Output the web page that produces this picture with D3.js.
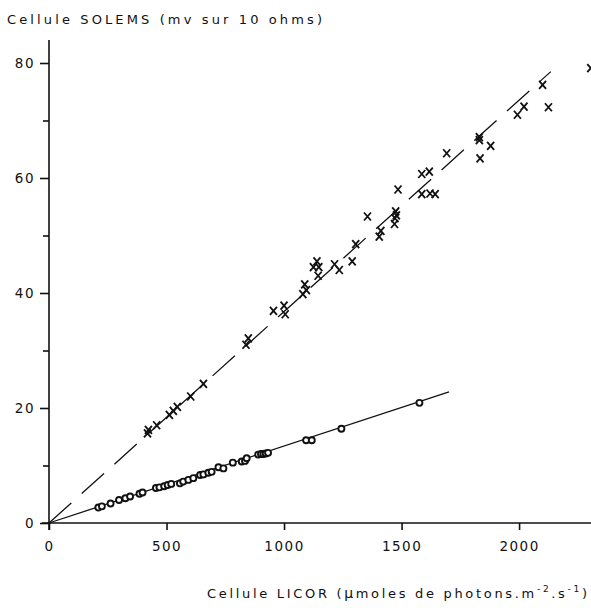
<!DOCTYPE html>
<html>
<head>
<meta charset="utf-8">
<script src="https://cdn.jsdelivr.net/npm/d3@7"></script>
<style>
  body { margin: 0; background: #fff; }
  text { font-family: "DejaVu Sans", "Liberation Sans", sans-serif; fill: #111; }
</style>
</head>
<body>
<div id="chart"></div>
<script>
// LICOR (x) vs SOLEMS (y), circles = lower series, crosses = upper series
var circleX = [210, 225, 262, 298, 325, 345, 385, 398, 455, 470, 490, 505, 520, 557, 571, 593, 614, 643, 657, 678, 692, 721, 742, 782, 820, 834, 841, 890, 902, 912, 922, 932, 1094, 1118, 1244, 1576];
var circleY = [2.7, 2.9, 3.4, 4.0, 4.3, 4.6, 5.1, 5.3, 6.1, 6.2, 6.4, 6.6, 6.8, 6.9, 7.2, 7.5, 7.8, 8.35, 8.45, 8.75, 8.9, 9.7, 9.5, 10.5, 10.7, 10.8, 11.25, 11.9, 12.0, 12.0, 12.1, 12.2, 14.4, 14.4, 16.4, 20.9];

var crossX = [419, 423, 458, 512, 529, 546, 603, 657, 838, 848, 955, 1000, 1005, 1080, 1088, 1095, 1125, 1140, 1148, 1145, 1215, 1235, 1290, 1305, 1355, 1405, 1412, 1470, 1472, 1475, 1478, 1485, 1586, 1621, 1643, 1586, 1618, 1692, 1831, 1831, 1834, 1879, 1993, 2021, 2100, 2125, 2305];
var crossY = [15.6, 16.2, 17.0, 18.8, 19.5, 20.2, 22.0, 24.2, 31.0, 32.1, 36.9, 37.8, 36.3, 39.8, 41.5, 40.5, 44.5, 45.5, 44.5, 43.0, 45.0, 44.0, 45.5, 48.5, 53.3, 49.8, 50.8, 52.0, 53.0, 54.2, 53.5, 58.0, 57.2, 57.3, 57.2, 60.7, 61.1, 64.3, 67.1, 66.6, 63.4, 65.6, 71.0, 72.4, 76.2, 72.3, 79.1];

// regression lines (end points)
var lowerLine = [[0, 0], [1702, 22.8]];
var upperLine = [[0, 0], [2135, 78.5]];

var xTicks = [0, 500, 1000, 1500, 2000];
var yTicks = [0, 20, 40, 60, 80];
var yMinor = [10, 30, 50, 70];

var width = 591, height = 608;

var svg = d3.select("#chart").append("svg")
    .attr("width", width)
    .attr("height", height);

svg.append("rect").attr("width", width).attr("height", height).attr("fill", "#fff");

var x = d3.scaleLinear().domain([0, 2306]).range([49, 591]);
var y = d3.scaleLinear().domain([0, 84]).range([523, 40]);

// axes
var xAxis = svg.append("g")
    .attr("transform", "translate(0," + y(0) + ")")
    .call(d3.axisBottom(x).tickValues(xTicks).tickSize(7).tickPadding(11).tickFormat(d3.format("d")));
xAxis.select(".domain").attr("d", "M" + (x(0) - 7) + ",0H" + width);

var yAxis = svg.append("g")
    .attr("transform", "translate(" + x(0) + ",0)")
    .call(d3.axisLeft(y).tickValues(yTicks).tickSize(9).tickPadding(5));
yAxis.select(".domain").attr("d", "M0," + (y(0) + 7) + "V" + y(84));

svg.append("g")
    .attr("transform", "translate(" + x(0) + ",0)")
    .call(d3.axisLeft(y).tickValues(yMinor).tickSize(6).tickFormat(""))
    .select(".domain").remove();

svg.selectAll(".domain, .tick line").attr("stroke", "#111").attr("stroke-width", 1.6);
svg.selectAll(".tick text").attr("font-size", 13.5).attr("fill", "#111")
    .attr("letter-spacing", 1.5)
    .style("font-family", "'DejaVu Sans', sans-serif");

// lines
var line = d3.line().x(function(d) { return x(d[0]); }).y(function(d) { return y(d[1]); });

svg.append("path")
    .attr("d", line(lowerLine))
    .attr("fill", "none")
    .attr("stroke", "#111")
    .attr("stroke-width", 1.3);

svg.append("path")
    .attr("d", line(upperLine))
    .attr("fill", "none")
    .attr("stroke", "#111")
    .attr("stroke-width", 1.3)
    .attr("stroke-dasharray", "30,14");

// circles
svg.append("g").selectAll("circle")
  .data(d3.range(circleX.length))
  .enter().append("circle")
    .attr("cx", function(i) { return x(circleX[i]); })
    .attr("cy", function(i) { return y(circleY[i]); })
    .attr("r", 3)
    .attr("fill", "#fff")
    .attr("stroke", "#111")
    .attr("stroke-width", 1.9);

// crosses
svg.append("g").selectAll("path")
  .data(d3.range(crossX.length))
  .enter().append("path")
    .attr("transform", function(i) { return "translate(" + x(crossX[i]) + "," + y(crossY[i]) + ")"; })
    .attr("d", "M-3.5,-4L3.5,4M3.5,-4L-3.5,4")
    .attr("stroke", "#111")
    .attr("stroke-width", 1.8);

// axis titles
svg.append("text")
    .attr("x", 7)
    .attr("y", 24)
    .attr("font-size", 13)
    .attr("textLength", 315)
    .attr("lengthAdjust", "spacing")
    .text("Cellule  SOLEMS  (mv  sur 10 ohms)");

var xl = svg.append("text")
    .attr("x", 207)
    .attr("y", 598)
    .attr("font-size", 13)
    .attr("textLength", 380)
    .attr("lengthAdjust", "spacing");
xl.append("tspan").text("Cellule   LICOR   (");
xl.append("tspan").attr("font-size", 14).text("\u03bc");
xl.append("tspan").text("moles de photons.m");
xl.append("tspan").attr("dy", -6).attr("font-size", 9).text("-2");
xl.append("tspan").attr("dy", 6).text(".s");
xl.append("tspan").attr("dy", -6).attr("font-size", 9).text("-1");
xl.append("tspan").attr("dy", 6).text(")");
</script>
</body>
</html>
